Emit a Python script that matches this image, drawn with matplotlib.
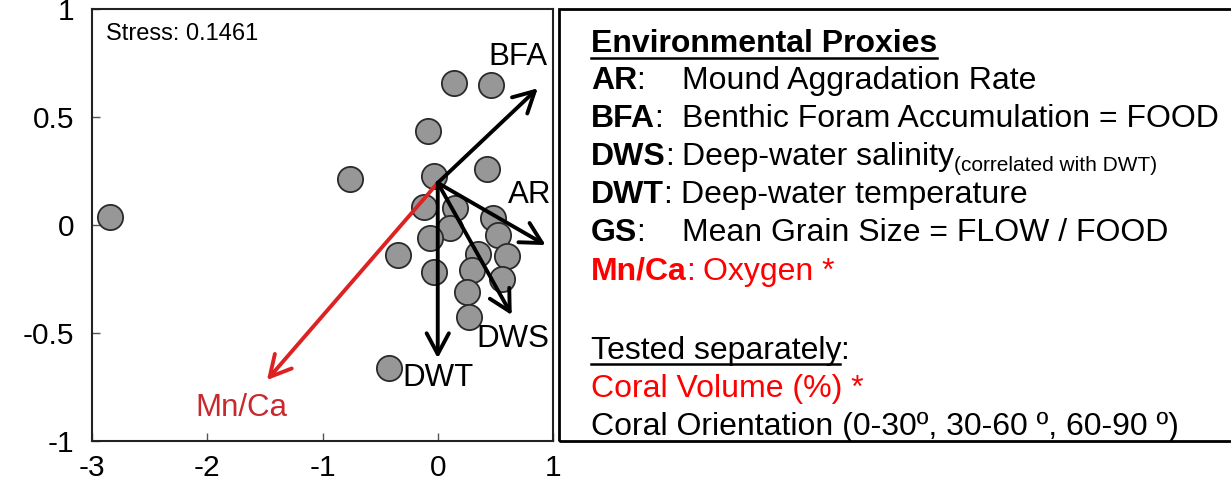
import matplotlib
matplotlib.use("Agg")
import matplotlib.pyplot as plt
from matplotlib.patches import Rectangle, FancyArrowPatch
from matplotlib.lines import Line2D

plt.rcParams['font.family'] = ['Liberation Sans', 'DejaVu Sans']

W, H = 1231, 492

# NMDS site scores
site_x = [-2.84, -0.76, 0.14, 0.465, -0.087, -0.031, 0.425, -0.118, 0.149, 0.48, 0.105,
          0.527, -0.071, -0.344, 0.347, 0.60, -0.031, 0.30, 0.558, 0.254, 0.27, -0.42]
site_y = [0.039, 0.211, 0.656, 0.648, 0.435, 0.228, 0.259, 0.085, 0.077, 0.031, -0.015,
          -0.046, -0.059, -0.139, -0.134, -0.144, -0.216, -0.208, -0.252, -0.312, -0.424, -0.664]

# fitted environmental vectors
vec_origin = (0.0, 0.195)
vec_names = ['BFA', 'AR', 'DWS', 'DWT', 'Mn/Ca']
vec_x = [0.868, 0.936, 0.642, 0.0, -1.482]
vec_y = [0.633, -0.093, -0.417, -0.617, -0.718]
vec_label_x = [0.70, 0.80, 0.65, 0.0, -1.70]
vec_label_y = [0.778, 0.14, -0.528, -0.708, -0.848]
vec_colors = ['black', 'black', 'black', 'black', '#dc2222']
vec_label_colors = ['black', 'black', 'black', 'black', '#c8282e']

stress = 0.1461
x_ticks = [-3, -2, -1, 0, 1]
y_ticks = [-1, -0.5, 0, 0.5, 1]

# legend text on the right
proxy_keys = ['AR', 'BFA', 'DWS', 'DWT', 'GS', 'Mn/Ca']
proxy_text = ['Mound Aggradation Rate', 'Benthic Foram Accumulation = FOOD',
              'Deep-water salinity', 'Deep-water temperature',
              'Mean Grain Size = FLOW / FOOD', 'Oxygen *']
proxy_tabbed = [True, True, False, False, True, False]
proxy_colors = ['black', 'black', 'black', 'black', 'black', '#ff0000']
dws_note = '(correlated with DWT)'
separate_lines = ['Coral Volume (%) *', 'Coral Orientation (0-30º, 30-60 º, 60-90 º)']
separate_colors = ['#ff0000', 'black']

fig = plt.figure(figsize=(W / 100, H / 100), dpi=100)
ax = fig.add_axes([92 / W, 1 - 441 / H, (553 - 92) / W, (441 - 9) / H])

ax.scatter(site_x, site_y, s=330, c='#979797', edgecolors='#2a2a2a', linewidths=1.3, zorder=2)

# red vector first, black ones drawn on top of it
for i in [4, 0, 1, 2, 3]:
    arr = FancyArrowPatch(vec_origin, (vec_x[i], vec_y[i]),
                          arrowstyle='->,head_length=0.75,head_width=0.4',
                          mutation_scale=20, color=vec_colors[i], lw=2.8,
                          shrinkA=0, shrinkB=0, zorder=3)
    ax.add_patch(arr)
    ax.text(vec_label_x[i], vec_label_y[i], vec_names[i], fontsize=22.5,
            color=vec_label_colors[i], ha='center', va='center', zorder=4)

ax.text(-2.88, 0.885, 'Stress: %.4f' % stress, fontsize=17, ha='left', va='center')

ax.set_xlim(-3, 1)
ax.set_ylim(-1, 1)
ax.set_xticks(x_ticks)
ax.set_xticklabels([str(t) for t in x_ticks])
ax.set_yticks(y_ticks)
ax.set_yticklabels(['-1', '-0.5', '0', '0.5', '1'])
ax.tick_params(axis='both', direction='in', length=6, width=1, color='#555555',
               labelsize=21.5)
ax.tick_params(axis='y', pad=13)
ax.tick_params(axis='x', pad=9)
for sp in ax.spines.values():
    sp.set_linewidth(1.5)
    sp.set_color('#222222')

# legend box
fig.patches.append(Rectangle((559, H - 441), 700, 432, transform=None, fill=False,
                             edgecolor='black', lw=2.0, zorder=5))

renderer = fig.canvas.get_renderer()
FS = 23
x0 = 591
tab_x = 682
space_px = 0.278 * FS * 100 / 72


def put(x, y, s, **kw):
    t = fig.text(x / W, 1 - y / H, s, ha='left', va='baseline', **kw)
    return x + t.get_window_extent(renderer).width


def underline(xa, xb, y):
    fig.lines.append(Line2D([xa / W, xb / W], [1 - y / H, 1 - y / H],
                            transform=fig.transFigure, color='black', lw=1.8))


end = put(x0, 52, 'Environmental Proxies', fontsize=FS, fontweight='bold')
underline(x0, end, 58)

baselines = [89, 127, 165, 203, 241, 280]
for key, desc, tabbed, col, yb in zip(proxy_keys, proxy_text, proxy_tabbed,
                                       proxy_colors, baselines):
    xe = put(x0, yb, key, fontsize=FS, fontweight='bold', color=col)
    xe = put(xe - 1, yb, ':', fontsize=FS, color=col)
    xs = tab_x if tabbed else xe + space_px
    xe = put(xs, yb, desc, fontsize=FS, color=col)
    if key == 'DWS':
        put(xe, yb + 6, dws_note, fontsize=15)

end = put(x0, 359, 'Tested separately', fontsize=FS)
underline(x0, end - 2, 364)
put(end - 1, 359, ':', fontsize=FS)
for s, col, yb in zip(separate_lines, separate_colors, [397, 435]):
    put(x0, yb, s, fontsize=FS, color=col)

fig.savefig('out.png', dpi=100)
